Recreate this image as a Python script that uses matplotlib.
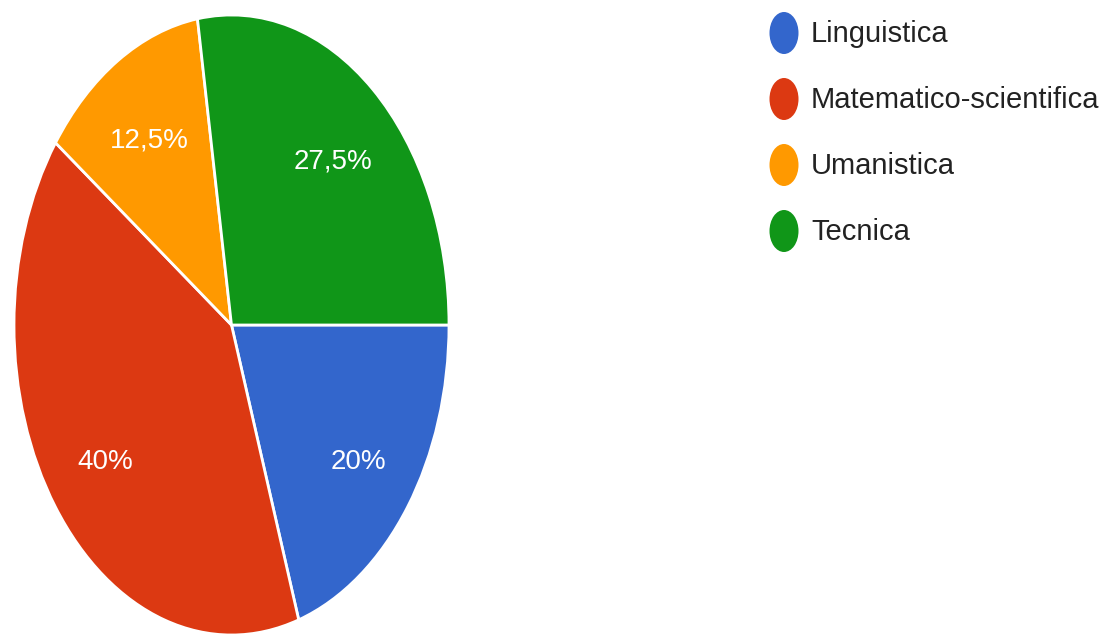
import matplotlib
matplotlib.use("Agg")
import matplotlib.pyplot as plt
import matplotlib.transforms as mtransforms
from matplotlib.patches import Ellipse

# Google Forms style pie (stretched vertically in the source picture)
categories = ["Linguistica", "Matematico-scientifica", "Umanistica", "Tecnica"]
shares = [20, 40, 12.5, 27.5]
colors = ["#3366CC", "#DC3912", "#FF9900", "#109618"]

FONT = ["Liberation Sans Narrow", "Liberation Sans", "DejaVu Sans"]

W, H = 1101, 635
fig = plt.figure(figsize=(W / 100, H / 100), dpi=100)

# pie axes: aspect left 'auto' so the circle becomes the tall ellipse of the original
ax = fig.add_axes([14 / W, 0.0, 435 / W, 620 / H])


def pct_label(p):
    s = f"{p:.1f}".rstrip("0").rstrip(".")
    return s.replace(".", ",") + "%"


wedges, texts, autotexts = ax.pie(
    shares, colors=colors, startangle=0, counterclock=False,
    autopct=pct_label, pctdistance=0.72,
    wedgeprops=dict(edgecolor="white", linewidth=2),
    textprops=dict(color="white", fontsize=20, family=FONT),
)
ax.set_aspect("auto")
ax.set_xlim(-1, 1)
ax.set_ylim(-1, 1)
ax.axis("off")

# labels sit a few pixels lower in the original
shift = mtransforms.ScaledTranslation(0, -6 / 100, fig.dpi_scale_trans)
for t in autotexts:
    t.set_transform(t.get_transform() + shift)

# legend drawn by hand on the right, in pixel coordinates
lax = fig.add_axes([0, 0, 1, 1])
lax.set_xlim(0, W)
lax.set_ylim(H, 0)
lax.axis("off")
for i, (name, col) in enumerate(zip(categories, colors)):
    y = 33 + i * 66
    lax.add_patch(Ellipse((784, y), 29, 42, color=col, lw=0))
    lax.text(811, y + 1, name, fontsize=21, family=FONT, color="#222222",
             va="center", ha="left")

fig.savefig("out.png", dpi=100)
